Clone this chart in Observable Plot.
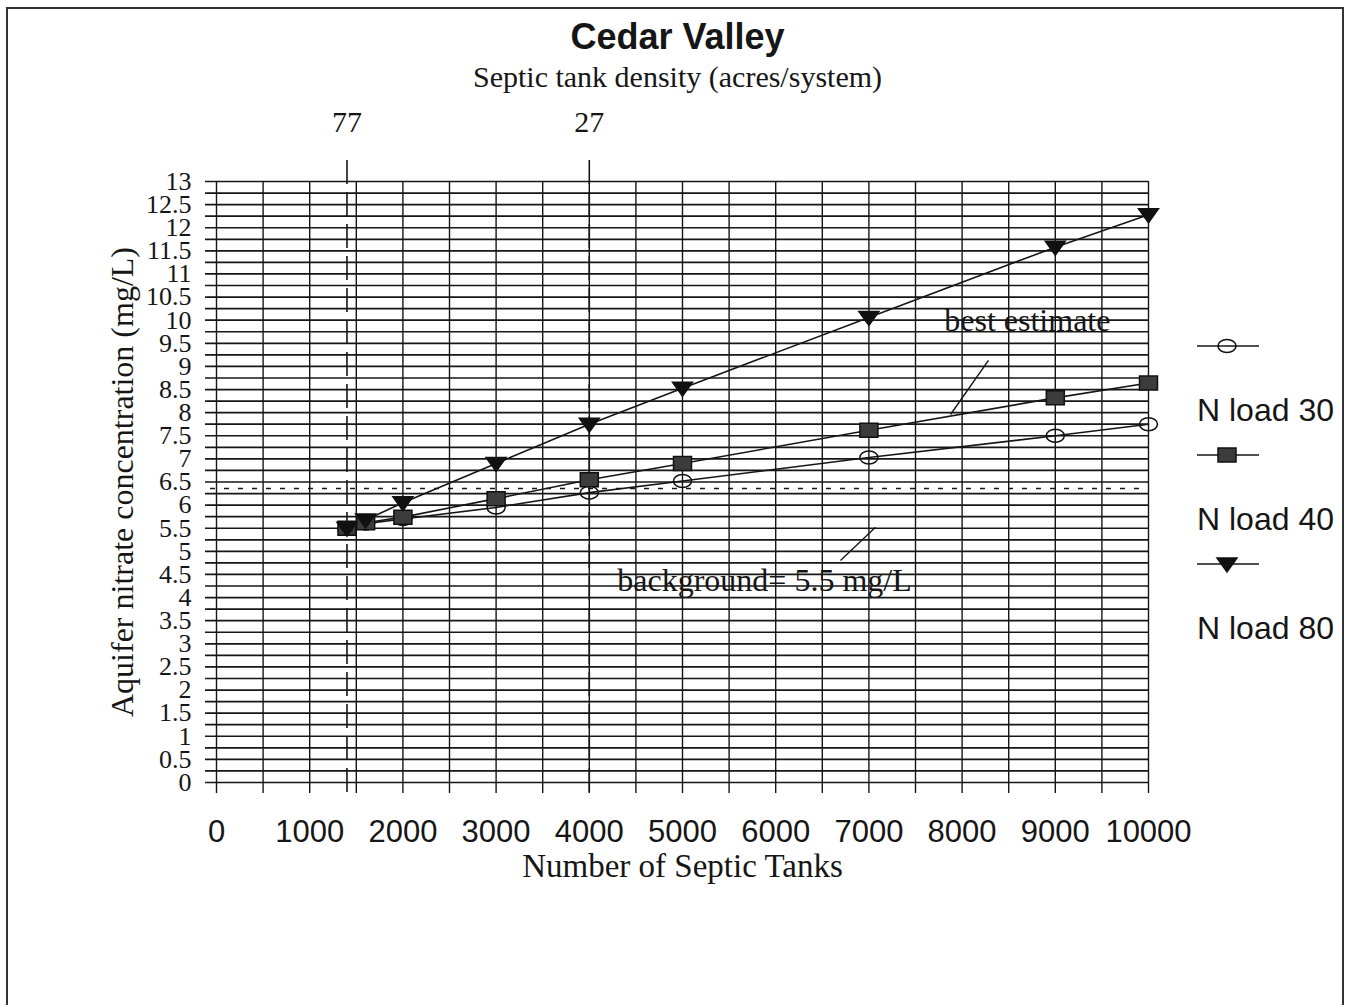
<!DOCTYPE html>
<html><head><meta charset="utf-8">
<script src="https://cdn.jsdelivr.net/npm/d3@7"></script>
<script src="https://cdn.jsdelivr.net/npm/@observablehq/plot@0.6"></script>
<style>
body{margin:0;background:#fff;}
#wrap{position:relative;width:1348px;height:1005px;overflow:hidden;}
#border{position:absolute;left:6px;top:7px;width:1338px;height:1010px;border:2px solid #333;border-bottom:none;box-sizing:border-box;pointer-events:none;}
</style></head>
<body><div id="wrap"><div id="border"></div></div>
<script>
// ---- data ----
const tanks = [1400, 1600, 2000, 3000, 4000, 5000, 7000, 9000, 10000];
const nLoad30 = [5.5, 5.6, 5.7, 5.95, 6.27, 6.52, 7.03, 7.5, 7.75];
const nLoad40 = [5.5, 5.62, 5.74, 6.14, 6.55, 6.9, 7.62, 8.32, 8.64];
const nLoad80 = [5.5, 5.68, 6.05, 6.9, 7.75, 8.53, 10.06, 11.58, 12.28];
const seriesNames = ["N load 30", "N load 40", "N load 80"];

const xTickLabels = [0, 1000, 2000, 3000, 4000, 5000, 6000, 7000, 8000, 9000, 10000];
const yTickLabels = [0, 0.5, 1, 1.5, 2, 2.5, 3, 3.5, 4, 4.5, 5, 5.5, 6, 6.5, 7, 7.5, 8, 8.5, 9, 9.5, 10, 10.5, 11, 11.5, 12, 12.5, 13];
const xGrid = d3.range(0, 10001, 500);
const yGrid = d3.range(0, 13.001, 0.25);

const densityTanks = [1400, 4000];
const densityLabels = ["77", "27"];
const referenceLevels = [6.36];

const titleText = "Cedar Valley";
const subtitleText = "Septic tank density (acres/system)";
const xTitle = "Number of Septic Tanks";
const yTitle = "Aquifer nitrate concentration (mg/L)";

const annotations = [
  {text: "best estimate", x: 8700, y: 9.99},
  {text: "background= 5.5 mg/L", x: 5880, y: 4.37}
];
const leaders = [
  {x1: 8283, y1: 9.13, x2: 7876, y2: 7.96},
  {x1: 6695, y1: 4.80, x2: 7071, y2: 5.52}
];

// ---- table ----
const seriesValues = [nLoad30, nLoad40, nLoad80];
const rows = seriesNames.flatMap((s, i) => tanks.map((t, j) => ({series: s, tanks: t, value: seriesValues[i][j]})));

// ---- marker shapes ----
const ellipseSym = {draw(ctx) {
  const rx = 9, ry = 6.5, k = 0.5523;
  ctx.moveTo(rx, 0);
  ctx.bezierCurveTo(rx, ry * k, rx * k, ry, 0, ry);
  ctx.bezierCurveTo(-rx * k, ry, -rx, ry * k, -rx, 0);
  ctx.bezierCurveTo(-rx, -ry * k, -rx * k, -ry, 0, -ry);
  ctx.bezierCurveTo(rx * k, -ry, rx, -ry * k, rx, 0);
  ctx.closePath();
}};
const squareSym = {draw(ctx) {
  ctx.moveTo(-9, -7); ctx.lineTo(9, -7); ctx.lineTo(9, 7); ctx.lineTo(-9, 7); ctx.closePath();
}};
const triSym = {draw(ctx) {
  ctx.moveTo(-10, -6); ctx.lineTo(10, -6); ctx.lineTo(0, 8); ctx.closePath();
}};
const symStyles = [
  {symbol: ellipseSym, fill: "none", stroke: "#111"},
  {symbol: squareSym, fill: "#3c3c3c", stroke: "#111"},
  {symbol: triSym, fill: "#111", stroke: "#111"}
];

const SERIF = "'Liberation Serif', 'Times New Roman', serif";
const SANS = "'Liberation Sans', Arial, sans-serif";
const INK = "#161616";

function legendMark(index, scales, values, dims) {
  const g = d3.create("svg:g");
  const x0 = dims.width - dims.marginRight + 49;
  seriesNames.forEach((name, i) => {
    const yl = dims.marginTop + 165 + i * 109;
    g.append("line").attr("x1", x0).attr("x2", x0 + 62).attr("y1", yl).attr("y2", yl)
      .attr("stroke", INK).attr("stroke-width", 1.5);
    const p = d3.path();
    symStyles[i].symbol.draw(p);
    g.append("path").attr("d", p.toString()).attr("transform", `translate(${x0 + 30},${yl})`)
      .attr("fill", symStyles[i].fill).attr("stroke", symStyles[i].stroke).attr("stroke-width", 1.5);
    g.append("text").attr("x", x0).attr("y", yl + 63).attr("dy", "0.36em")
      .attr("text-anchor", "start")
      .attr("font-family", SANS).attr("font-size", 32).attr("fill", INK).text(name);
  });
  return g.node();
}

const chart = Plot.plot({
  width: 1348,
  height: 1005,
  marginLeft: 216,
  marginRight: 200,
  marginTop: 181,
  marginBottom: 223,
  style: {background: "transparent", fontFamily: SERIF, overflow: "visible"},
  x: {domain: [0, 10000]},
  y: {domain: [0, 13]},
  marks: [
    Plot.ruleY(yGrid, {stroke: INK, strokeWidth: 1.7, insetLeft: -11}),
    Plot.ruleX(xGrid, {stroke: INK, strokeWidth: 1.4, insetBottom: -11}),
    Plot.ruleY(referenceLevels, {stroke: INK, strokeWidth: 1.6, strokeDasharray: "5,9", insetLeft: -6}),
    Plot.ruleX(densityTanks, {stroke: INK, strokeWidth: 1.6, strokeDasharray: "24,8", insetTop: -21, insetBottom: -18}),
    Plot.axisY(yTickLabels, {tickSize: 0, tickPadding: 25, fontSize: 26, fontFamily: SERIF, fill: INK, label: null, tickFormat: d => String(d)}),
    Plot.axisX(xTickLabels, {tickSize: 0, tickPadding: 37, fontSize: 31, fontFamily: SANS, fill: INK, label: null, tickFormat: d => String(d)}),
    Plot.line(rows, {x: "tanks", y: "value", z: "series", stroke: INK, strokeWidth: 1.6}),
    ...seriesNames.map((s, i) => Plot.dot(rows.filter(r => r.series === s), {
      x: "tanks", y: "value", symbol: symStyles[i].symbol, fill: symStyles[i].fill,
      stroke: symStyles[i].stroke, strokeWidth: 1.5, r: 7
    })),
    Plot.text(densityTanks, {x: d => d, text: (d, i) => densityLabels[i], frameAnchor: "top", lineAnchor: "middle", dy: -59, fontSize: 30, fontFamily: SERIF, fill: INK}),
    Plot.text([titleText], {frameAnchor: "top", lineAnchor: "middle", textAnchor: "middle", dx: -5, dy: -144, fontSize: 36, fontWeight: "bold", fontFamily: SANS, fill: INK}),
    Plot.text([subtitleText], {frameAnchor: "top", lineAnchor: "middle", textAnchor: "middle", dx: -5, dy: -104, fontSize: 30, fontFamily: SERIF, fill: INK}),
    Plot.text([xTitle], {frameAnchor: "bottom", lineAnchor: "middle", textAnchor: "middle", dy: 84, fontSize: 33, fontFamily: SERIF, fill: INK}),
    Plot.text([yTitle], {frameAnchor: "left", lineAnchor: "middle", textAnchor: "middle", dx: -94, rotate: -90, fontSize: 32, fontFamily: SERIF, fill: INK}),
    Plot.link(leaders, {x1: "x1", y1: "y1", x2: "x2", y2: "y2", stroke: INK, strokeWidth: 1.4}),
    Plot.text(annotations, {x: "x", y: "y", text: "text", fontSize: 32, fontFamily: SERIF, fill: INK}),
    legendMark
  ]
});
document.getElementById("wrap").prepend(chart);
</script>
</body></html>
